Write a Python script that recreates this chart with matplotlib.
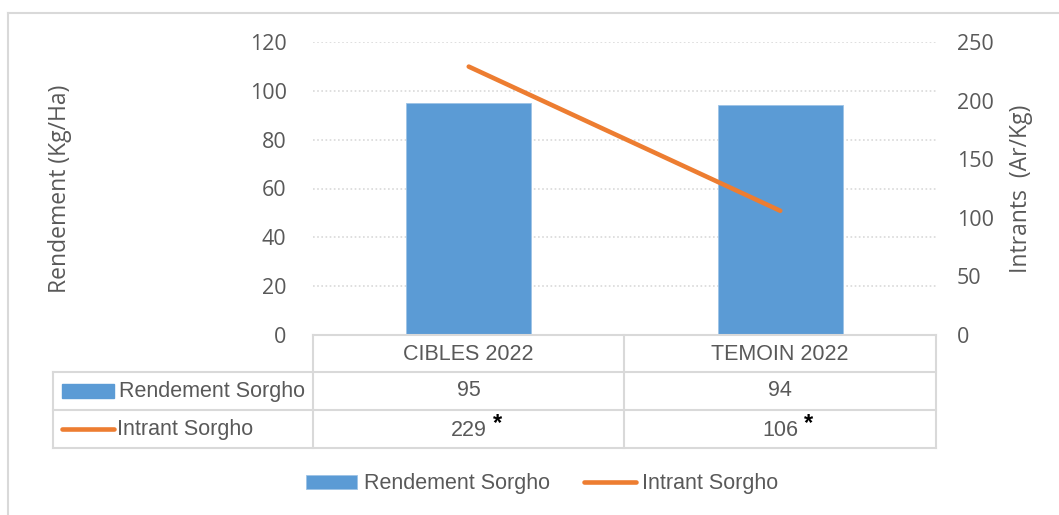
import numpy as np
import matplotlib.pyplot as plt
from matplotlib.lines import Line2D
from matplotlib.patches import Rectangle

categories = ["CIBLES 2022", "TEMOIN 2022"]
rendement = [95, 94]
intrant = [229, 106]
rendement_label = "Rendement Sorgho"
intrant_label = "Intrant Sorgho"

W, H = 1059, 515
blue = "#5B9BD5"
orange = "#ED7D31"
grey_txt = "#595959"
grid_c = "#D9D9D9"

tick_font = ["Open Sans", "DejaVu Sans"]
tab_font = ["Liberation Sans Narrow", "Liberation Sans", "DejaVu Sans"]


def fx(x):
    return x / W


def fy(y):
    return 1 - y / H


fig = plt.figure(figsize=(W / 100, H / 100), dpi=100)

# outer frame (top and left visible)
fig.add_artist(Line2D([fx(8), fx(8)], [fy(13), 0], color=grid_c, lw=1.5))
fig.add_artist(Line2D([fx(8), 1], [fy(13), fy(13)], color=grid_c, lw=1.5))

ax = fig.add_axes([fx(313), fy(335), fx(936) - fx(313), fy(42) - fy(335)])
ax2 = ax.twinx()

x = np.arange(len(categories))
bars = ax.bar(x, rendement, width=0.4, color=blue, edgecolor="#9DC3E6", linewidth=0.6,
              label=rendement_label, zorder=2)
ln, = ax2.plot(x, intrant, color=orange, lw=3.3, solid_capstyle="round",
               label=intrant_label, zorder=3)

ax.set_xlim(-0.5, 1.5)
ax.set_ylim(0, 120)
ax.set_yticks(range(0, 121, 20))
ax2.set_ylim(0, 250)
ax2.set_yticks(range(0, 251, 50))
ax.set_xticks([])
ax.yaxis.grid(True, color=grid_c, linestyle=(0, (1, 1.5)), lw=1.2, zorder=0)
ax.set_axisbelow(True)
for a in (ax, ax2):
    for s in a.spines.values():
        s.set_visible(False)
    a.tick_params(axis="y", length=0, labelsize=15.5, labelcolor=grey_txt)
    for t in a.get_yticklabels():
        t.set_family(tick_font)
ax.tick_params(axis="y", pad=19)
ax2.tick_params(axis="y", pad=15)

fig.text(fx(60), fy(189), "Rendement (Kg/Ha)", rotation=90, ha="center", va="center",
         fontsize=16.5, color=grey_txt, family=tick_font)
fig.text(fx(1021), fy(189), "Intrants  (Ar/Kg)", rotation=90, ha="center", va="center",
         fontsize=16.5, color=grey_txt, family=tick_font)

# data table drawn under the axis
tc = "#D9D9D9"
tlw = 1.5
cols = [313, 624, 936]
rows = [335, 372, 410, 448]
for yy in rows:
    x0 = 313 if yy == 335 else 53
    fig.add_artist(Line2D([fx(x0), fx(936)], [fy(yy), fy(yy)], color=tc, lw=tlw))
for xx in cols:
    fig.add_artist(Line2D([fx(xx), fx(xx)], [fy(335), fy(448)], color=tc, lw=tlw))
fig.add_artist(Line2D([fx(53), fx(53)], [fy(372), fy(448)], color=tc, lw=tlw))

centers = [(cols[i] + cols[i + 1]) / 2 for i in range(len(categories))]
tab_size = 15.5
for c, cat, r, it in zip(centers, categories, rendement, intrant):
    fig.text(fx(c), fy(354), cat, ha="center", va="center", fontsize=tab_size,
             color=grey_txt, family=tab_font)
    fig.text(fx(c), fy(391), str(r), ha="center", va="center", fontsize=tab_size,
             color=grey_txt, family=tab_font)
    fig.text(fx(c), fy(430), str(it), ha="center", va="center", fontsize=tab_size,
             color=grey_txt, family=tab_font)
    fig.text(fx(c + 29), fy(424), "*", ha="center", va="center", fontsize=17,
             fontweight="bold", color="black", family=tab_font)

fig.add_artist(Rectangle((fx(62), fy(398)), fx(114) - fx(62), fy(384) - fy(398),
                         color=blue, transform=fig.transFigure))
fig.text(fx(119), fy(391), rendement_label, ha="left", va="center", fontsize=tab_size,
         color=grey_txt, family=tab_font)
fig.add_artist(Line2D([fx(62), fx(114)], [fy(429), fy(429)], color=orange, lw=3.3,
                      solid_capstyle="round"))
fig.text(fx(117), fy(430), intrant_label, ha="left", va="center", fontsize=tab_size,
         color=grey_txt, family=tab_font)

leg = fig.legend([bars, ln], [rendement_label, intrant_label], loc="center",
                 bbox_to_anchor=(fx(542), fy(484)), ncol=2, frameon=False,
                 handlelength=2.4, handleheight=0.6, handletextpad=0.3,
                 columnspacing=1.6, prop={"family": tab_font, "size": tab_size})
for t in leg.get_texts():
    t.set_color(grey_txt)

fig.savefig("out.png", dpi=100)
